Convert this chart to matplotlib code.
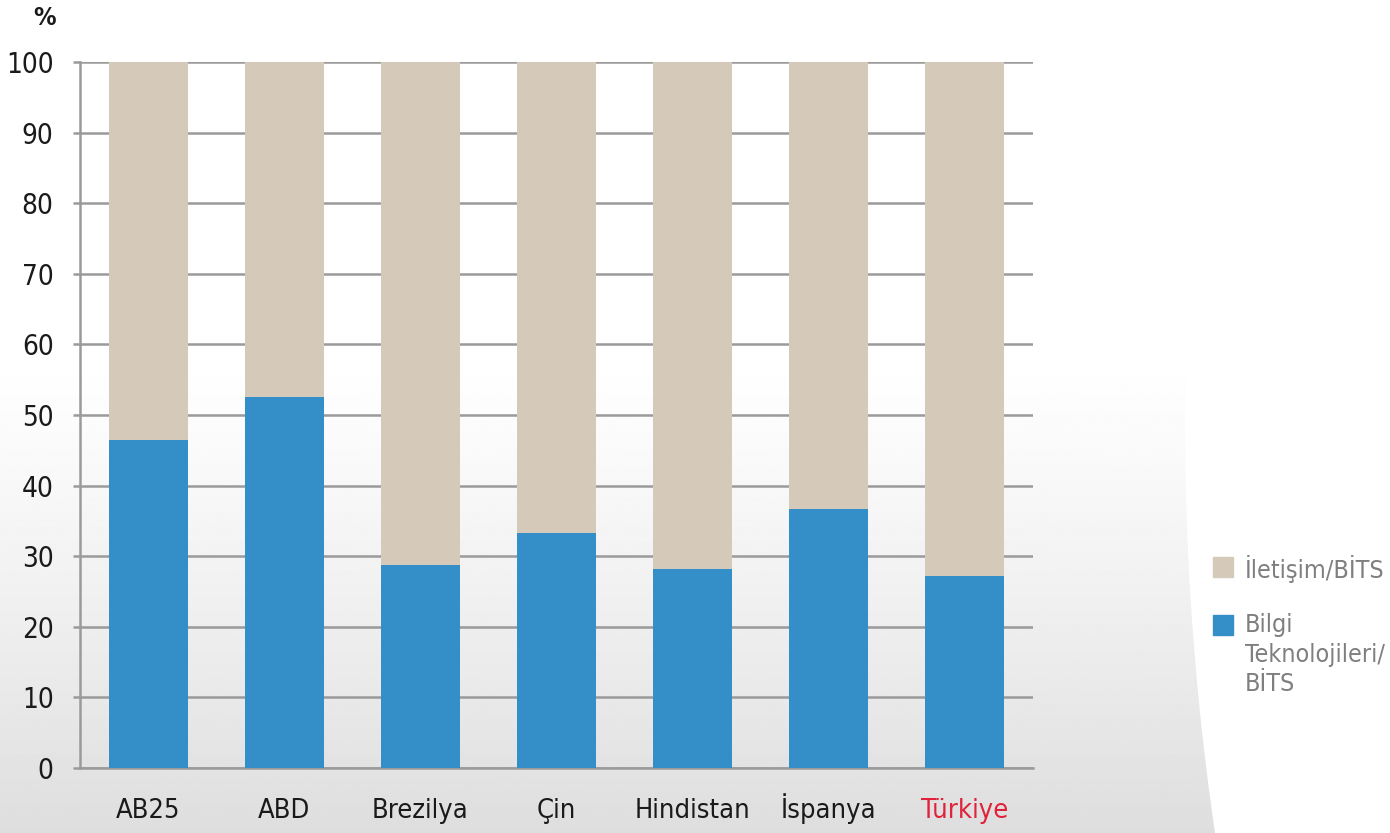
import numpy as np
import matplotlib
matplotlib.use("Agg")
import matplotlib.pyplot as plt
from matplotlib.patches import Rectangle, Circle

countries = ["AB25", "ABD", "Brezilya", "Çin", "Hindistan", "İspanya", "Türkiye"]
bilgi = [46.5, 52.5, 28.8, 33.3, 28.2, 36.7, 27.2]
iletisim = [100 - v for v in bilgi]
yticks = list(range(0, 101, 10))

BLUE = "#348ec8"
BEIGE = "#d5c9b9"
GRID = "#9a9a9a"

plt.rcParams['font.family'] = ['DejaVu Sans']
plt.rcParams['font.stretch'] = 'condensed'

W, H = 1390, 833
fig = plt.figure(figsize=(W / 100, H / 100), dpi=100)

# background gradient: white on top, light grey at bottom, white curve on right
bg = fig.add_axes([0, 0, 1, 1], zorder=-10)
t = np.linspace(0, 1, 400)
col = np.where(t < 0.42, 1.0, 1.0 - 0.13 * ((t - 0.42) / 0.58) ** 1.2)
img = np.repeat(col[:, None], 2, axis=1)
bg.imshow(img, cmap="gray", vmin=0, vmax=1, aspect="auto", extent=[0, W, H, 0])
r = 2857
bg.add_patch(Circle((1185 + r, 420), r, color="white", lw=0))
bg.set_xlim(0, W)
bg.set_ylim(H, 0)
bg.axis("off")

ax = fig.add_axes([80 / W, (H - 768) / H, 953 / W, 706 / H])
ax.set_facecolor("none")
x = np.arange(len(countries))
ax.bar(x, bilgi, width=0.58, color=BLUE, zorder=3)
ax.bar(x, iletisim, bottom=bilgi, width=0.58, color=BEIGE, zorder=3)

ax.set_xlim(-0.5, len(countries) - 0.5)
ax.set_ylim(0, 100)
ax.set_yticks(yticks)
ax.yaxis.grid(True, color=GRID, lw=1.8, zorder=0)
ax.set_axisbelow(True)
for s in ["top", "right"]:
    ax.spines[s].set_visible(False)
ax.spines["left"].set_color(GRID)
ax.spines["left"].set_linewidth(1.8)
ax.spines["bottom"].set_color(GRID)
ax.spines["bottom"].set_linewidth(1.8)
ax.tick_params(axis="y", length=5, width=1.8, color=GRID, labelsize=20, pad=14,
               labelcolor="#1a1a1a")
ax.tick_params(axis="x", length=0, labelsize=19.5, pad=36, labelcolor="#1a1a1a")
ax.set_xticks(x)
ax.set_xticklabels(countries, va="baseline")
ax.get_xticklabels()[-1].set_color("#e0223a")

fig.text(45 / W, 1 - 18 / H, "%", ha="center", va="center", fontsize=18,
         fontweight="bold", color="#1a1a1a")

# legend
legend_items = [(BEIGE, "İletişim/BİTS", 567), (BLUE, "Bilgi\nTeknolojileri/\nBİTS", 625)]
for c, lab, yp in legend_items:
    fig.patches.append(Rectangle((1213 / W, 1 - (yp + 10) / H), 20 / W, 20 / H,
                                 transform=fig.transFigure, color=c))
    fig.text(1245 / W, 1 - (yp - 12) / H, lab, ha="left", va="top",
             fontsize=18, color="#7f7f7f", linespacing=1.3)

fig.savefig("out.png", dpi=100)
